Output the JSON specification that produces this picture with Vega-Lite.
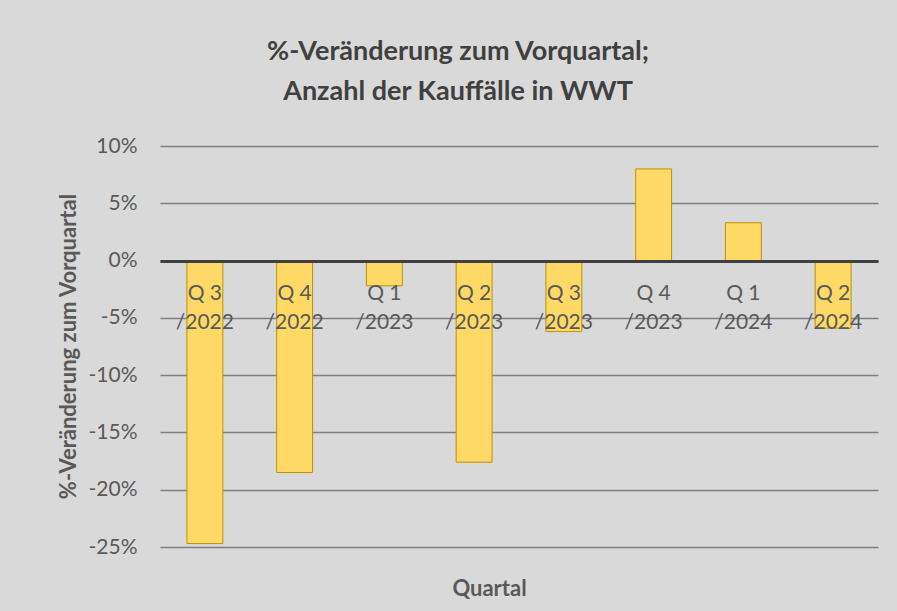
{
  "$schema": "https://vega.github.io/schema/vega-lite/v6.json",
  "width": 718,
  "height": 401,
  "autosize": {"type": "none"},
  "padding": {"left": 160, "top": 146, "right": 19, "bottom": 64},
  "background": "#d9d9d9",
  "title": {
    "text": ["%-Veränderung zum Vorquartal;", "Anzahl der Kauffälle in WWT"],
    "anchor": "middle",
    "dx": -61,
    "offset": 29,
    "font": "Lato",
    "fontSize": 27,
    "fontWeight": "bold",
    "color": "#404040",
    "lineHeight": 40
  },
  "data": {
    "values": [
      {"quartal": "Q 3|/2022", "veraenderung": -0.247},
      {"quartal": "Q 4|/2022", "veraenderung": -0.185},
      {"quartal": "Q 1|/2023", "veraenderung": -0.022},
      {"quartal": "Q 2|/2023", "veraenderung": -0.176},
      {"quartal": "Q 3|/2023", "veraenderung": -0.062},
      {"quartal": "Q 4|/2023", "veraenderung": 0.080},
      {"quartal": "Q 1|/2024", "veraenderung": 0.033},
      {"quartal": "Q 2|/2024", "veraenderung": -0.059}
    ]
  },
  "mark": {"type": "bar", "fill": "#ffd966", "stroke": "#bf9000", "strokeWidth": 1},
  "encoding": {
    "x": {
      "field": "quartal",
      "type": "nominal",
      "sort": null,
      "scale": {"paddingInner": 0.6, "paddingOuter": 0.3},
      "axis": {
        "title": "Quartal",
        "orient": "bottom",
        "offset": -286,
        "zindex": 1,
        "domain": true,
        "domainColor": "#404040",
        "domainWidth": 3,
        "ticks": false,
        "grid": false,
        "labelAngle": 0,
        "labelExpr": "split(datum.value, '|')",
        "labelFont": "Lato",
        "labelFontSize": 21,
        "labelColor": "#595959",
        "labelPadding": 21,
        "labelLineHeight": 29,
        "titleFont": "Lato",
        "titleFontSize": 22,
        "titleFontWeight": "bold",
        "titleColor": "#595959",
        "titleX": 329,
        "titleY": 327,
        "titleAlign": "center",
        "titleBaseline": "middle"
      }
    },
    "y": {
      "field": "veraenderung",
      "type": "quantitative",
      "scale": {"domain": [-0.25, 0.1], "nice": false, "zero": false},
      "axis": {
        "title": "%-Veränderung zum Vorquartal",
        "values": [-0.25, -0.2, -0.15, -0.1, -0.05, 0, 0.05, 0.1],
        "labelExpr": "round(datum.value * 100) + '%'",
        "grid": true,
        "gridColor": "#7f7f7f",
        "gridWidth": 1.5,
        "domain": false,
        "ticks": false,
        "labelPadding": 23,
        "labelFont": "Lato",
        "labelFontSize": 21,
        "labelColor": "#595959",
        "titleFont": "Lato",
        "titleFontSize": 22,
        "titleFontWeight": "bold",
        "titleColor": "#595959",
        "titleAngle": -90,
        "titleX": -92,
        "titleY": 200,
        "titleAlign": "center",
        "titleBaseline": "middle"
      }
    }
  },
  "config": {"view": {"stroke": null}}
}
